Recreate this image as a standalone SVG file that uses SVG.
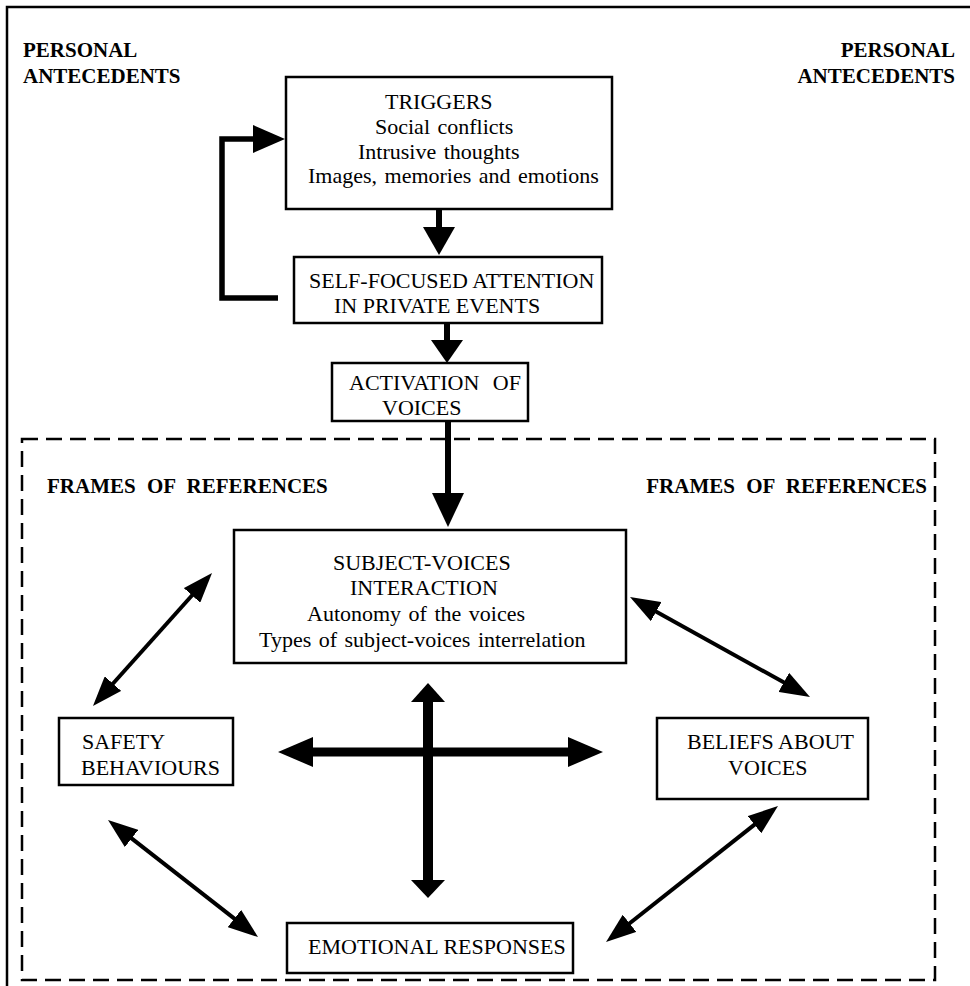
<svg xmlns="http://www.w3.org/2000/svg" width="970" height="986" viewBox="0 0 970 986">
<defs>
<style>
text{font-family:"Liberation Serif","Times New Roman",serif;font-size:22px;fill:#000}
.b{font-weight:bold;font-size:21px}
.box{fill:#fff;stroke:#000;stroke-width:2.5}
.frame{fill:none;stroke:#000;stroke-width:2.5;stroke-dasharray:16 8}
.thin{stroke:#000;stroke-width:4;fill:none;marker-start:url(#h);marker-end:url(#h)}
.thick{stroke:#000;fill:none}
.hd{fill:#000}
</style>
<marker id="h" markerUnits="userSpaceOnUse" viewBox="0 0 30 22" markerWidth="30" markerHeight="22" refX="22" refY="11" orient="auto-start-reverse">
<path d="M0,0 L30,11 L0,22 z" fill="#000"/>
</marker>
</defs>
<rect x="7" y="7" width="990" height="1010" fill="#fff" stroke="#000" stroke-width="2.5"/>
<rect class="frame" x="22" y="439" width="913" height="541"/>
<g id="labels">
<text class="b" x="23" y="57">PERSONAL</text>
<text class="b" x="23" y="83">ANTECEDENTS</text>
<text class="b" x="955" y="57" text-anchor="end">PERSONAL</text>
<text class="b" x="955" y="83" text-anchor="end">ANTECEDENTS</text>
<text class="b" x="47" y="493" word-spacing="6">FRAMES OF REFERENCES</text>
<text class="b" x="927" y="493" text-anchor="end" word-spacing="6">FRAMES OF REFERENCES</text>
</g>
<g id="triggers">
<rect class="box" x="286" y="77" width="326" height="132"/>
<text x="385" y="109">TRIGGERS</text>
<text x="375" y="134" word-spacing="2">Social conflicts</text>
<text x="358" y="159" word-spacing="2">Intrusive thoughts</text>
<text x="308" y="183" word-spacing="2">Images, memories and emotions</text>
</g>
<g id="selffocused">
<rect class="box" x="294" y="257" width="308" height="66"/>
<text x="309" y="288">SELF-FOCUSED ATTENTION</text>
<text x="334" y="313">IN PRIVATE EVENTS</text>
</g>
<g id="activation">
<rect class="box" x="332" y="363" width="196" height="58"/>
<text x="349" y="390" word-spacing="8">ACTIVATION OF</text>
<text x="382" y="415">VOICES</text>
</g>
<g id="subjectvoices">
<rect class="box" x="234" y="530" width="392" height="133"/>
<text x="333" y="570">SUBJECT-VOICES</text>
<text x="350" y="595">INTERACTION</text>
<text x="307" y="621" word-spacing="2">Autonomy of the voices</text>
<text x="259" y="647" word-spacing="2">Types of subject-voices interrelation</text>
</g>
<g id="safety">
<rect class="box" x="59" y="718" width="174" height="67"/>
<text x="82" y="749">SAFETY</text>
<text x="81" y="775">BEHAVIOURS</text>
</g>
<g id="beliefs">
<rect class="box" x="657" y="718" width="211" height="81"/>
<text x="687" y="749">BELIEFS ABOUT</text>
<text x="728" y="775">VOICES</text>
</g>
<g id="emotional">
<rect class="box" x="287" y="923" width="286" height="50"/>
<text x="308" y="954">EMOTIONAL RESPONSES</text>
</g>
<g id="connectors">
<polyline class="thick" stroke-width="5.5" points="278,298 222,298 222,139 254,139"/>
<polygon class="hd" points="253,125 285,139 253,153"/>
<line class="thick" stroke-width="6" x1="439" y1="209" x2="439" y2="229"/>
<polygon class="hd" points="423,227 455,227 439,255"/>
<line class="thick" stroke-width="6" x1="447" y1="323" x2="447" y2="342"/>
<polygon class="hd" points="431,340 463,340 447,363"/>
<line class="thick" stroke-width="6" x1="448" y1="421" x2="448" y2="495"/>
<polygon class="hd" points="432,493 464,493 448,527"/>
<line class="thin" x1="206.7" y1="579" x2="98.3" y2="700"/>
<line class="thin" x1="637" y1="600.9" x2="803" y2="693.1"/>
<line class="thin" x1="114.3" y1="824.9" x2="251.7" y2="932.1"/>
<line class="thin" x1="771.7" y1="811" x2="612.3" y2="937"/>
<line class="thick" stroke-width="10" x1="428" y1="700" x2="428" y2="882"/>
<polygon class="hd" points="411,702 428,683 445,702"/>
<polygon class="hd" points="411,880 428,898 445,880"/>
<line class="thick" stroke-width="9" x1="311" y1="752" x2="570" y2="752"/>
<polygon class="hd" points="313,737 278,752 313,767"/>
<polygon class="hd" points="568,737 603,752 568,767"/>
</g>
</svg>
